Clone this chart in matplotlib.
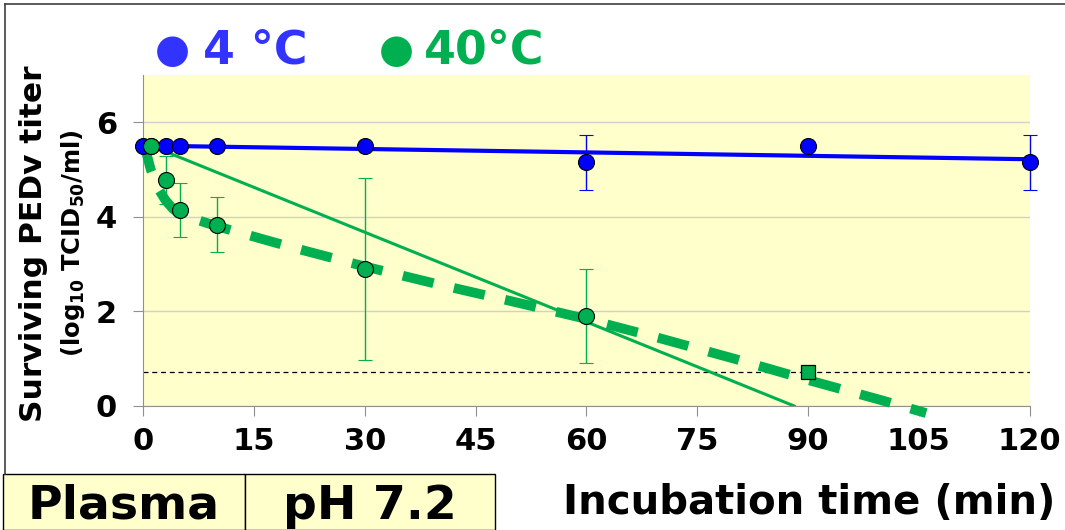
import matplotlib
matplotlib.use('Agg')
import matplotlib.pyplot as plt
from matplotlib.lines import Line2D
from matplotlib.patches import Rectangle
import numpy as np

plt.rcParams['font.family'] = ['DejaVu Sans']

# 4 degC series
t_4c = [0, 1, 3, 5, 10, 30, 60, 90, 120]
titer_4c = [5.5, 5.5, 5.5, 5.5, 5.5, 5.5, 5.15, 5.5, 5.15]
err_4c = [0, 0, 0, 0, 0, 0, 0.58, 0, 0.58]

# 40 degC series (90 min point is at the detection limit)
t_40c = [1, 3, 5, 10, 30, 60]
titer_40c = [5.5, 4.78, 4.15, 3.83, 2.9, 1.9]
err_40c = [0, 0.5, 0.57, 0.58, 1.93, 1.0]
t_40c_dl = [90]
titer_40c_dl = [0.72]

detection_limit = 0.72

# trend lines
fit_40c_slope = -0.0632
fit_40c_intercept = 5.57
curve_40c_t = [0, 1, 2, 3, 4, 5, 7, 10, 20, 30, 40, 50, 60, 70, 80, 90, 100, 106]
curve_40c_y = [5.6, 5.0, 4.6, 4.35, 4.17, 4.05, 3.95, 3.8, 3.36, 2.95, 2.57, 2.21,
               1.84, 1.43, 1.0, 0.55, 0.12, -0.15]

x_ticks = [0, 15, 30, 45, 60, 75, 90, 105, 120]
y_ticks = [0, 2, 4, 6]

blue = '#0000FF'
green = '#00B050'
yellow = '#FFFFCC'

fig = plt.figure(figsize=(10.65, 5.3), dpi=100)
ax = fig.add_axes([0.1346, 0.234, 0.8321, 0.6245])
ax.set_facecolor(yellow)

ax.set_xlim(0, 120)
ax.set_ylim(0, 7)
ax.set_xticks(x_ticks)
ax.set_yticks(y_ticks)
ax.grid(axis='y', color='#D0D0D0', lw=1)
ax.set_axisbelow(True)
for s in ['top', 'right']:
    ax.spines[s].set_visible(False)
for s in ['left', 'bottom']:
    ax.spines[s].set_color('#909090')
ax.tick_params(direction='out', length=7, color='#909090', labelsize=22)
ax.tick_params(axis='x', pad=8)
ax.tick_params(axis='y', pad=12)
for lab in ax.get_xticklabels() + ax.get_yticklabels():
    lab.set_fontweight('bold')

# detection limit
ax.axhline(detection_limit, color='black', lw=0.9, ls=(0, (4, 3)), zorder=2)

# 40 degC fits
x_end = -fit_40c_intercept / fit_40c_slope
xs = np.array([0, x_end])
ax.plot(xs, fit_40c_slope * xs + fit_40c_intercept, color=green, lw=2.2, zorder=3)
ax.plot(curve_40c_t, curve_40c_y, color=green, lw=7, ls=(0, (3.25, 2.15)),
        dash_capstyle='butt', clip_on=False, zorder=3)

# 4 degC fit
p4 = np.polyfit(t_4c, titer_4c, 1)
xs4 = np.array([0, 120])
ax.plot(xs4, np.polyval(p4, xs4), color=blue, lw=3, zorder=3)

ax.errorbar(t_4c, titer_4c, yerr=err_4c, fmt='o', color=blue, ms=11.5,
            mec='black', mew=0.8, ecolor=blue, elinewidth=1, capsize=5,
            capthick=1, zorder=5, clip_on=False)
ax.errorbar(t_40c, titer_40c, yerr=err_40c, fmt='o', color=green, ms=11.5,
            mec='black', mew=0.8, ecolor=green, elinewidth=1, capsize=5,
            capthick=1, zorder=6)
ax.plot(t_40c_dl, titer_40c_dl, 's', color=green, ms=10, mec='black', mew=0.9,
        zorder=6)

# axis titles
fig.text(0.031, 0.54, 'Surviving PEDv titer', rotation=90, fontsize=22.5,
         fontweight='bold', ha='center', va='center')
fig.text(0.069, 0.542, r'(log$_{\mathbf{10}}$ TCID$_{\mathbf{50}}$/ml)', rotation=90,
         fontsize=17.5, fontweight='bold', ha='center', va='center')
fig.text(0.529, 0.05, 'Incubation time (min)', fontsize=29, fontweight='bold',
         ha='left', va='center')

# legend at top
fig.text(0.162, 0.903, '\u25cf', color='#3333FF', fontsize=29, ha='center', va='center')
fig.text(0.191, 0.903, '4 \u00b0C', color='#3333FF', fontsize=33, fontweight='bold',
         ha='left', va='center')
fig.text(0.372, 0.903, '\u25cf', color=green, fontsize=29, ha='center', va='center')
fig.text(0.398, 0.903, '40\u00b0C', color=green, fontsize=33, fontweight='bold',
         ha='left', va='center')

# label boxes
for x0, x1, txt in [(3, 245, 'Plasma'), (245, 495, 'pH 7.2')]:
    fig.add_artist(Rectangle((x0 / 1065, 0), (x1 - x0) / 1065, 56 / 530,
                             transform=fig.transFigure, facecolor=yellow,
                             edgecolor='black', lw=1))
    fig.text((x0 + x1) / 2 / 1065, 0.045, txt, fontsize=34, fontweight='bold',
             ha='center', va='center')

# outer frame
fig.add_artist(Line2D([5 / 1065, 5 / 1065], [1 - 474 / 530, 1 - 4 / 530],
                      transform=fig.transFigure, color='#404040', lw=1.2))
fig.add_artist(Line2D([5 / 1065, 1], [1 - 4 / 530, 1 - 4 / 530],
                      transform=fig.transFigure, color='#404040', lw=1.2))

fig.savefig('out.png', dpi=100)
